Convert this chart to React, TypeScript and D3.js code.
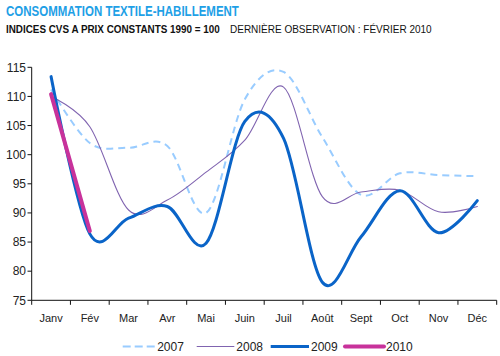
import React, { useLayoutEffect, useRef, useState } from "react";
import * as d3 from "d3";

const months = ["Janv", "Fév", "Mar", "Avr", "Mai", "Juin", "Juil", "Août", "Sept", "Oct", "Nov", "Déc"];
const s2007 = [111.2, 102.0, 101.2, 101.5, 90.0, 109.5, 114.2, 103.0, 93.1, 96.8, 96.5, 96.3];
const s2008 = [110.0, 104.8, 90.5, 92.2, 97.0, 102.5, 111.6, 92.8, 93.6, 93.9, 90.2, 91.1];
const s2009 = [113.4, 86.4, 89.1, 91.1, 84.8, 105.7, 102.8, 78.1, 85.9, 93.8, 86.6, 92.1];
const s2010 = [110.4, 86.9];
const yTicks = [75, 80, 85, 90, 95, 100, 105, 110, 115];
const seriesNames = ["2007", "2008", "2009", "2010"];

const title = "CONSOMMATION TEXTILE-HABILLEMENT";
const subBold = "INDICES CVS A PRIX CONSTANTS 1990 = 100";
const subRegular = "DERNIÈRE OBSERVATION : FÉVRIER 2010";

const styles = [
  { color: "#99ccff", width: 2, dash: "7,5" },
  { color: "#8064b0", width: 1.1, dash: "" },
  { color: "#0a64c8", width: 3, dash: "" },
  { color: "#c8329b", width: 4, dash: "" },
];

function FitText(props: {
  x: number;
  y: number;
  width: number;
  text: string;
  fontSize: number;
  fontWeight?: string;
  fill: string;
  fontFamily: string;
}) {
  const ref = useRef<SVGTextElement>(null);
  const [sx, setSx] = useState(1);
  useLayoutEffect(() => {
    if (ref.current) {
      const w = ref.current.getComputedTextLength();
      if (w > 0) setSx(props.width / w);
    }
  }, [props.text, props.width]);
  return (
    <text
      ref={ref}
      transform={`translate(${props.x},${props.y}) scale(${sx},1)`}
      fontSize={props.fontSize}
      fontWeight={props.fontWeight}
      fill={props.fill}
      fontFamily={props.fontFamily}
    >
      {props.text}
    </text>
  );
}

export default function App() {
  const x = d3.scaleBand<string>().domain(months).range([31.7, 496.7]);
  const y = d3.scaleLinear().domain([75, 115]).range([300.3, 67.3]);
  const cx = (i: number) => (x(months[i]) as number) + x.bandwidth() / 2;
  const line = d3
    .line<number>()
    .x((_, i) => cx(i))
    .y((d) => y(d))
    .curve(d3.curveCardinal.tension(0));
  const data = [s2007, s2008, s2009, s2010];
  const font = "'Liberation Sans', Arial, sans-serif";
  const legendX = [122.7, 196.7, 270.7, 345];
  const legendLen = [32.5, 37.6, 38.3, 39];

  return (
    <svg width={500} height={356} style={{ position: "absolute", left: 0, top: 0 }} fontFamily={font}>
      <rect width={500} height={356} fill="#fff" />
      <FitText x={6} y={16} width={233} text={title} fontSize={15} fontWeight="bold" fill="#1ea0e6" fontFamily={font} />
      <FitText x={6} y={33.3} width={214} text={subBold} fontSize={11} fontWeight="bold" fill="#111" fontFamily={font} />
      <FitText x={230} y={33.3} width={202} text={subRegular} fontSize={11} fill="#111" fontFamily={font} />

      {/* y axis */}
      <line x1={31.7} x2={31.7} y1={y(115)} y2={y(75)} stroke="#111" strokeWidth={1} />
      {yTicks.map((t) => (
        <g key={t}>
          <line x1={27.5} x2={31.7} y1={y(t)} y2={y(t)} stroke="#111" />
          <text x={26} y={y(t)} dy="0.35em" textAnchor="end" fontSize={12} fill="#222">
            {t}
          </text>
        </g>
      ))}
      {/* x axis */}
      <line x1={31.7} x2={496.7} y1={y(75)} y2={y(75)} stroke="#111" />
      {months.map((m, i) => (
        <g key={m}>
          <line x1={x(m) as number} x2={x(m) as number} y1={y(75)} y2={y(75) + 4.5} stroke="#111" />
          <text x={cx(i)} y={322} textAnchor="middle" fontSize={11} fill="#222">
            {m}
          </text>
        </g>
      ))}
      <line x1={496.7} x2={496.7} y1={y(75)} y2={y(75) + 4.5} stroke="#111" />

      {data.map((d, k) => (
        <path
          key={k}
          d={line(d) as string}
          fill="none"
          stroke={styles[k].color}
          strokeWidth={styles[k].width}
          strokeDasharray={styles[k].dash || undefined}
          strokeLinecap={k === 0 ? "butt" : "round"}
          strokeLinejoin="round"
        />
      ))}

      {/* legend */}
      {seriesNames.map((n, k) => (
        <g key={n}>
          <line
            x1={legendX[k]}
            x2={legendX[k] + legendLen[k]}
            y1={346.5}
            y2={346.5}
            stroke={styles[k].color}
            strokeWidth={styles[k].width}
            strokeDasharray={styles[k].dash ? "8,4" : undefined}
            strokeLinecap={k === 3 ? "round" : "butt"}
          />
          <text x={legendX[k] + legendLen[k] + 2} y={346.5} dy="0.36em" fontSize={12} fill="#222">
            {n}
          </text>
        </g>
      ))}
    </svg>
  );
}
